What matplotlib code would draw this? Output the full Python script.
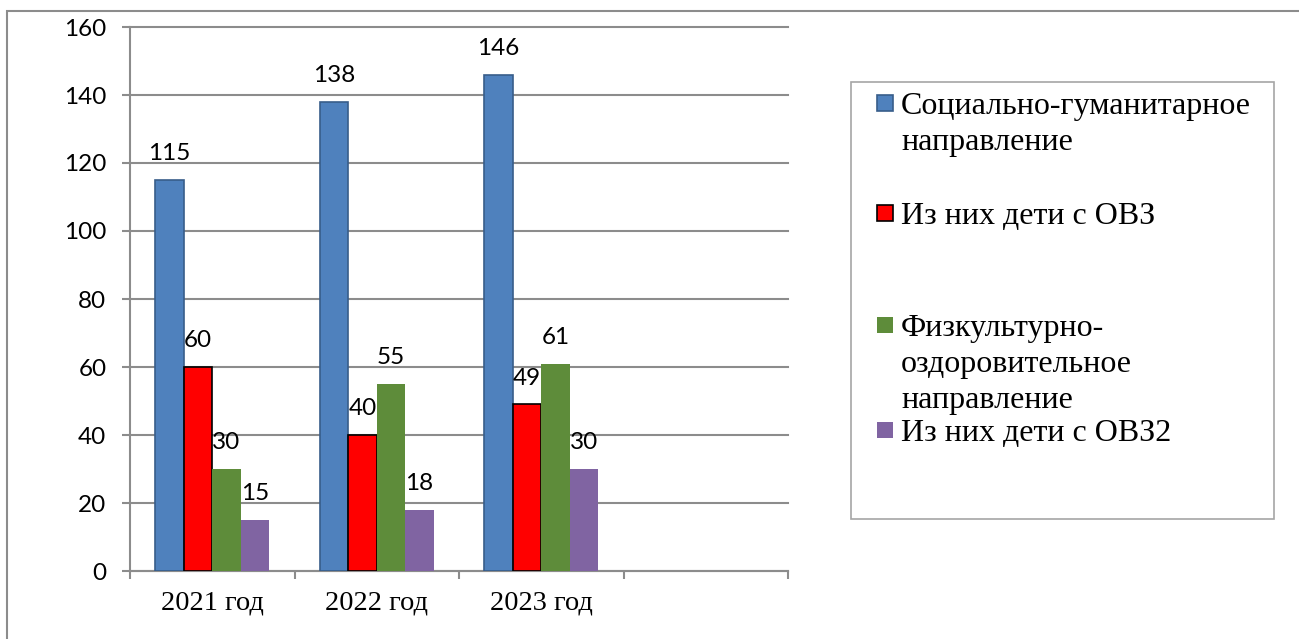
import matplotlib
matplotlib.use('Agg')
import matplotlib.pyplot as plt
from matplotlib.patches import Rectangle
import numpy as np

years = ['2021 год', '2022 год', '2023 год']
series_names = ['Социально-гуманитарное\nнаправление',
                'Из них дети с ОВЗ',
                'Физкультурно-\nоздоровительное\nнаправление',
                'Из них дети с ОВЗ2']
soc_gum = [115, 138, 146]
soc_ovz = [60, 40, 49]
fiz_ozd = [30, 55, 61]
fiz_ovz = [15, 18, 30]
yticks = [0, 20, 40, 60, 80, 100, 120, 140, 160]

colors = ['#4F81BD', '#FF0000', '#5E8C3A', '#8064A2']
edges = ['#385D8A', '#000000', 'none', 'none']

W, H = 1299, 639
fig = plt.figure(figsize=(W / 100, H / 100), dpi=100)

def fx(x):
    return x / W

def fy(y):
    return 1 - y / H

# outer frame (cut off at right/bottom like the source screenshot)
fig.patches.append(Rectangle((fx(7), -0.05), 1.1, fy(11) + 0.05, transform=fig.transFigure,
                             fill=False, ec='#8c8c8c', lw=1.5))

ax = fig.add_axes([fx(130), fy(571), fx(788) - fx(130), fy(27) - fy(571)])

data = [soc_gum, soc_ovz, fiz_ozd, fiz_ovz]
x = np.arange(len(years))
w = 0.173
for i, vals in enumerate(data):
    xs = x + (i - 1.5) * w
    lw = 1.2 if edges[i] != 'none' else 0
    ax.bar(xs, vals, w, color=colors[i], edgecolor=edges[i], linewidth=lw, zorder=3)
    for xi, v in zip(xs, vals):
        ax.annotate(str(v), (xi, v), xytext=(0, 19), textcoords='offset points',
                    ha='center', va='center', fontsize=17.5, family='Lato', zorder=4)

ax.set_xlim(-0.5, 3.5)
ax.set_ylim(0, 160)
ax.set_yticks(yticks)
ax.set_yticklabels([str(t) for t in yticks], family='Lato', fontsize=17.5)
ax.set_xticks(x)
ax.set_xticklabels(years, family='Liberation Serif', fontsize=20.5)
ax.set_xticks([-0.5, 0.5, 1.5, 2.5, 3.5], minor=True)
ax.tick_params(axis='x', which='major', length=0, pad=14)
ax.tick_params(axis='x', which='minor', length=6, width=1.5, color='#8c8c8c')
ax.tick_params(axis='y', length=6, width=1.5, color='#8c8c8c', pad=11)

ax.grid(axis='y', color='#8c8c8c', lw=1.5, zorder=0)
for gl in ax.get_ygridlines():
    gl.set_clip_on(False)
for s in ['top', 'right']:
    ax.spines[s].set_visible(False)
for s in ['left', 'bottom']:
    ax.spines[s].set_color('#8c8c8c')
    ax.spines[s].set_linewidth(1.5)

# legend drawn by hand to keep Excel's uneven entry spacing
fig.patches.append(Rectangle((fx(851), fy(519)), fx(1274) - fx(851), fy(82) - fy(519),
                             transform=fig.transFigure, fill=False, ec='#a6a6a6', lw=1.2))
entry_y = [103, 213, 325, 430]
line_h = 36
for i, name in enumerate(series_names):
    y0 = entry_y[i]
    lw = 1.2 if edges[i] != 'none' else 0
    fig.patches.append(Rectangle((fx(877), fy(y0 + 8)), fx(16), 16 / H, transform=fig.transFigure,
                                 fc=colors[i], ec=edges[i], lw=lw))
    for j, line in enumerate(name.split('\n')):
        fig.text(fx(901), fy(y0 + j * line_h), line, ha='left', va='center_baseline',
                 family='Liberation Serif', fontsize=23)

fig.savefig('out.png', dpi=100)
